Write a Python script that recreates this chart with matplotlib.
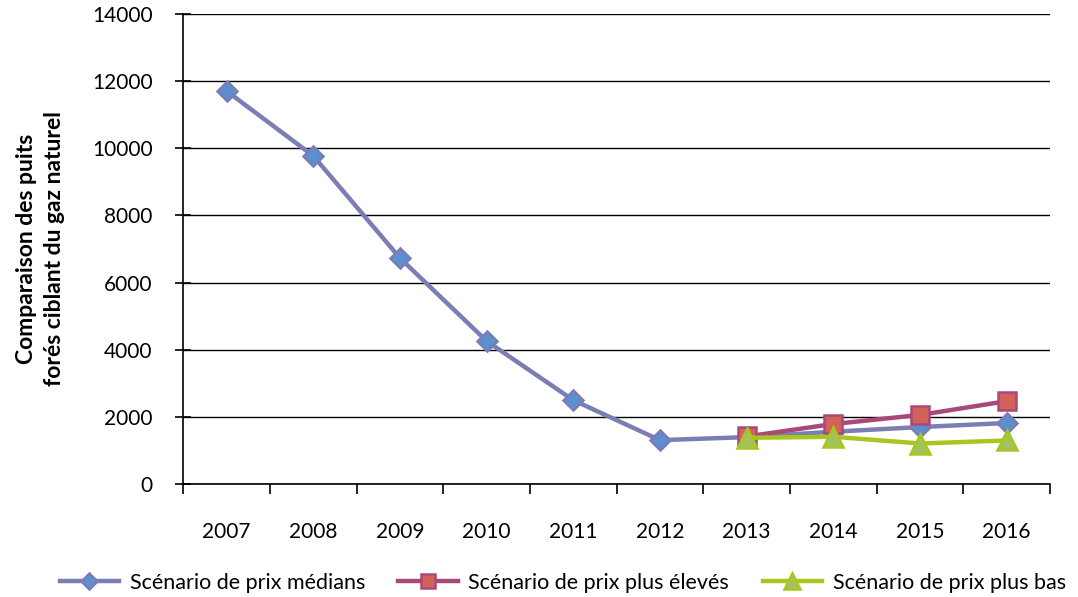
import matplotlib.pyplot as plt
import numpy as np

plt.rcParams['font.family'] = ['Lato', 'DejaVu Sans']

years = ['2007', '2008', '2009', '2010', '2011', '2012', '2013', '2014', '2015', '2016']

# Number of gas-targeted wells under each price scenario
median_vals = [11700, 9770, 6730, 4260, 2500, 1310, 1400, 1560, 1700, 1820]
high_vals = [None, None, None, None, None, None, 1420, 1790, 2060, 2470]
low_vals = [None, None, None, None, None, None, 1380, 1410, 1210, 1300]

x = np.arange(len(years))

fig = plt.figure(figsize=(10.78, 5.97), dpi=100)
ax = fig.add_axes([0.17, 0.189, 0.804, 0.788])

def series(vals):
    return np.array([np.nan if v is None else v for v in vals], dtype=float)

ax.plot(x, series(median_vals), color='#7B7DB5', linewidth=3.2, marker='D', markersize=10,
        markerfacecolor='#5B8FD0', markeredgecolor='#7B7DB5', markeredgewidth=1.8,
        label='Scénario de prix médians', zorder=3)
ax.plot(x, series(high_vals), color='#A8497A', linewidth=3.2, marker='s', markersize=13,
        markerfacecolor='#D2625A', markeredgecolor='#A8497A', markeredgewidth=1.8,
        label='Scénario de prix plus élevés', zorder=4)
ax.plot(x, series(low_vals), color='#A6C81E', linewidth=3.2, marker='^', markersize=14,
        markerfacecolor='#A3C25E', markeredgecolor='#A6C81E', markeredgewidth=1.8,
        label='Scénario de prix plus bas', zorder=5)

ax.set_xlim(-0.5, len(years) - 0.5)
ax.set_ylim(0, 14000)
ax.set_yticks(np.arange(0, 14001, 2000))
ax.yaxis.grid(True, color='black', linewidth=1.0)
ax.set_axisbelow(True)

ax.set_xticks(x)
ax.set_xticklabels(years, fontsize=15)
ax.set_xticks(np.arange(-0.5, len(years)), minor=True)
ax.tick_params(axis='x', which='major', length=0, pad=27)
ax.tick_params(axis='x', which='minor', length=7, width=1.2, color='black')
ax.tick_params(axis='y', labelsize=15, length=12, width=1.2, color='black',
               direction='inout', pad=16)

for side in ['top', 'right']:
    ax.spines[side].set_visible(False)
ax.spines['left'].set_color('black')
ax.spines['bottom'].set_color('black')
ax.spines['left'].set_linewidth(1.2)
ax.spines['bottom'].set_linewidth(1.2)

ax.set_ylabel('Comparaison des puits\nforés ciblant du gaz naturel', fontsize=16.5,
              fontweight='bold', linespacing=1.4)
ax.yaxis.set_label_coords(-0.137, 0.5)

fig.legend(loc='center', bbox_to_anchor=(0.522, 0.024), ncol=3, frameon=False,
           fontsize=15.5, handlelength=2.75, handletextpad=0.5, columnspacing=1.55,
           markerscale=0.8)

fig.savefig('out.png', dpi=100)
